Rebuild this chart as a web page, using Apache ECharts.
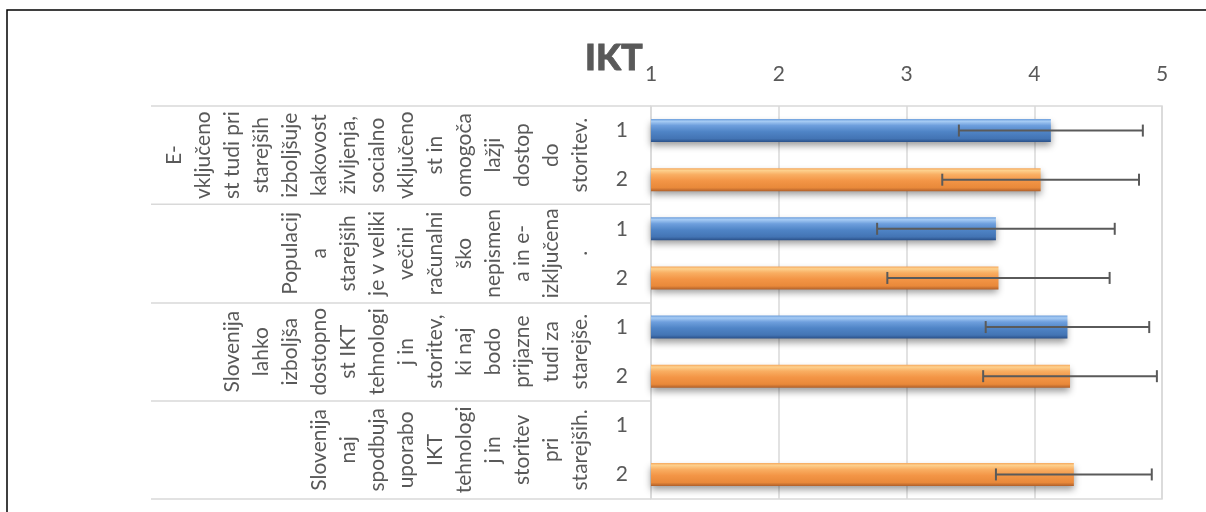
<!DOCTYPE html>
<html><head><meta charset="utf-8">
<script src="https://cdn.jsdelivr.net/npm/echarts@6/dist/echarts.min.js"></script>
<style>html,body{margin:0;padding:0;background:#fff}#c{width:1206px;height:512px}</style>
</head><body><div id="c"></div>
<script>
const chartTitle = 'IKT';
const groupLines = [
  ['E-','vključeno','st tudi pri','starejših','izboljšuje','kakovost','življenja,','socialno','vključeno','st in','omogoča','lažji','dostop','do','storitev.'],
  ['Populacij','a','starejših','je v veliki','večini','računalni','ško','nepismen','a in e-','izključena','.'],
  ['Slovenija','lahko','izboljša','dostopno','st IKT','tehnologi','j in','storitev,','ki naj','bodo','prijazne','tudi za','starejše.'],
  ['Slovenija','naj','spodbuja','uporabo','IKT','tehnologi','j in','storitev','pri','starejših.']
];
const seriesNames = ['1', '2'];
const values1 = [4.13, 3.70, 4.26, null];
const values2 = [4.05, 3.72, 4.28, 4.31];
const errors1 = [0.72, 0.93, 0.64, null];
const errors2 = [0.77, 0.87, 0.68, 0.61];
const xMin = 1, xMax = 5, xStep = 1;

const groupLabels = groupLines.map(l => l.join('\n'));
const rowLabels = [];
groupLabels.forEach(() => seriesNames.forEach(n => rowLabels.push(n)));
const allValues = [values1, values2];
const allErrors = [errors1, errors2];

function rowData(s) {
  const out = new Array(rowLabels.length).fill('-');
  allValues[s].forEach((v, g) => { if (v != null) out[g * seriesNames.length + s] = v; });
  return out;
}
function errData(s) {
  const out = [];
  allValues[s].forEach((v, g) => {
    const e = allErrors[s][g];
    if (v != null && e != null) out.push([g * seriesNames.length + s, v - e, v + e]);
  });
  return out;
}

const FONT = 'Lato';
const TXT = '#595959';
const grads = [
  {type:'linear',x:0,y:0,x2:0,y2:1,colorStops:[
    {offset:0,color:'#6d9fdc'},{offset:0.1,color:'#a6cbf4'},{offset:0.28,color:'#6e9fdd'},
    {offset:0.55,color:'#4f84c6'},{offset:0.85,color:'#4374b4'},{offset:1,color:'#2a5088'}]},
  {type:'linear',x:0,y:0,x2:0,y2:1,colorStops:[
    {offset:0,color:'#f5a65a'},{offset:0.1,color:'#fdd08d'},{offset:0.28,color:'#f9ae62'},
    {offset:0.55,color:'#f39546'},{offset:0.85,color:'#e9893a'},{offset:1,color:'#b0602a'}]}
];

function renderErr(params, api) {
  const y = api.value(0), lo = api.value(1), hi = api.value(2);
  const p1 = api.coord([lo, y]);
  const p2 = api.coord([hi, y]);
  const h = 6;
  const style = {stroke:'#5a5a5a', lineWidth:2};
  return {type:'group', children:[
    {type:'line', shape:{x1:p1[0],y1:p1[1],x2:p2[0],y2:p2[1]}, style:style},
    {type:'line', shape:{x1:p1[0],y1:p1[1]-h,x2:p1[0],y2:p1[1]+h}, style:style},
    {type:'line', shape:{x1:p2[0],y1:p2[1]-h,x2:p2[0],y2:p2[1]+h}, style:style}
  ]};
}

const series = [];
seriesNames.forEach((n, s) => {
  series.push({
    name: n, type:'bar', yAxisIndex:0, data: rowData(s), barWidth: 23, barGap:'-100%',
    itemStyle:{color: grads[s], shadowBlur:7, shadowOffsetY:4, shadowColor:'rgba(0,0,0,0.4)'},
    emphasis:{disabled:true}, z:2
  });
});
seriesNames.forEach((n, s) => {
  series.push({
    name: n + ' err', type:'custom', yAxisIndex:0, data: errData(s),
    encode:{x:[1,2], y:0}, renderItem: renderErr, z:5, silent:true
  });
});

const chart = echarts.init(document.getElementById('c'), null, {renderer:'canvas'});
chart.setOption({
  animation:false,
  backgroundColor:'#fff',
  title:{text: chartTitle, left:585, top:40, padding:0,
    textStyle:{fontSize:36, fontWeight:900, color:TXT, fontFamily:FONT,
      textBorderColor:TXT, textBorderWidth:0.8}},
  grid:{left:651, right:44, top:106, bottom:13, show:true, borderColor:'#d9d9d9', borderWidth:1.5,
    containLabel:false, outerBoundsMode:'none'},
  xAxis:{type:'value', position:'top', min:xMin, max:xMax, interval:xStep, startValue:xMin,
    axisLine:{show:false}, axisTick:{show:false},
    axisLabel:{color:TXT, fontSize:21, fontFamily:FONT, margin:21},
    splitLine:{show:true, lineStyle:{color:'#d9d9d9', width:1.5}}},
  yAxis:[
    {type:'category', data: rowLabels, inverse:true, position:'left',
      axisLine:{show:false}, axisTick:{show:false}, splitLine:{show:false},
      axisLabel:{color:TXT, fontSize:21, fontFamily:FONT, margin:23, interval:0}},
    {type:'category', data: groupLabels, inverse:true, position:'left', offset:0,
      axisLine:{show:false},
      axisTick:{show:true, interval:0, length:500, lineStyle:{color:'#d9d9d9', width:1.5}},
      splitLine:{show:false},
      axisLabel:{rotate:90, interval:0, margin:56, align:'center', verticalAlign:'bottom',
        lineHeight:29, fontSize:21, color:TXT, fontFamily:FONT}}
  ],
  graphic:[{type:'rect', silent:true, z:100,
    shape:{x:7, y:10, width:1230, height:530}, style:{fill:'none', stroke:'#000', lineWidth:1.5}}],
  series: series
});
</script></body></html>
